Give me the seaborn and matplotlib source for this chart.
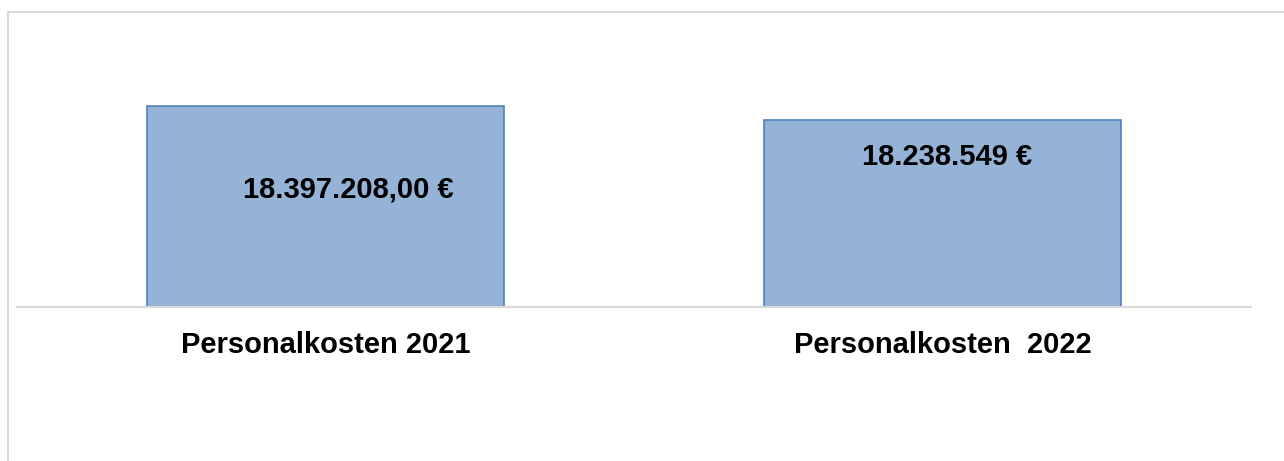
import seaborn as sns
import pandas as pd
import matplotlib.pyplot as plt
from matplotlib.patches import Rectangle

categories = ['Personalkosten 2021', 'Personalkosten  2022']
values = [18397208.00, 18238549]
value_labels = ['18.397.208,00 €', '18.238.549 €']

df = pd.DataFrame({'Kategorie': categories, 'Wert': values})

sns.set_style('white')
plt.rcParams['font.family'] = ['Liberation Sans', 'DejaVu Sans']

fig = plt.figure(figsize=(12.84, 4.61), dpi=100)
ax = fig.add_axes([17 / 1284, 1 - 307 / 461, 1234 / 1284, 267 / 461])

sns.barplot(data=df, x='Kategorie', y='Wert', color='#95b3d7', saturation=1,
            width=0.58, edgecolor='#4f81bd', linewidth=1.2, ax=ax)
ax.set_xlim(-0.5, 1.5)
ax.set_ylim(16.115e6, 19.14e6)

# value labels sit inside the bars, not centered exactly
ax.text(0.037, 17.45e6, value_labels[0], ha='center', va='center',
        fontsize=21, fontweight='bold', color='black')
ax.text(1.008, 17.81e6, value_labels[1], ha='center', va='center',
        fontsize=21, fontweight='bold', color='black')

for side in ['top', 'left', 'right']:
    ax.spines[side].set_visible(False)
ax.spines['bottom'].set_color('#d9d9d9')
ax.spines['bottom'].set_linewidth(1.5)
ax.set_yticks([])
ax.set_xlabel('')
ax.set_ylabel('')
ax.tick_params(axis='x', length=0, pad=17)
for lbl in ax.get_xticklabels():
    lbl.set_fontsize(21)
    lbl.set_fontweight('bold')
    lbl.set_color('black')

# chart frame (runs past the right and bottom edge of the image)
fig.patches.append(Rectangle((8 / 1284, -0.1), 1.1, 1 - 12 / 461 + 0.1,
                             transform=fig.transFigure, fill=False,
                             edgecolor='#d9d9d9', linewidth=1.5, zorder=0))

plt.savefig('out.png', dpi=100)
